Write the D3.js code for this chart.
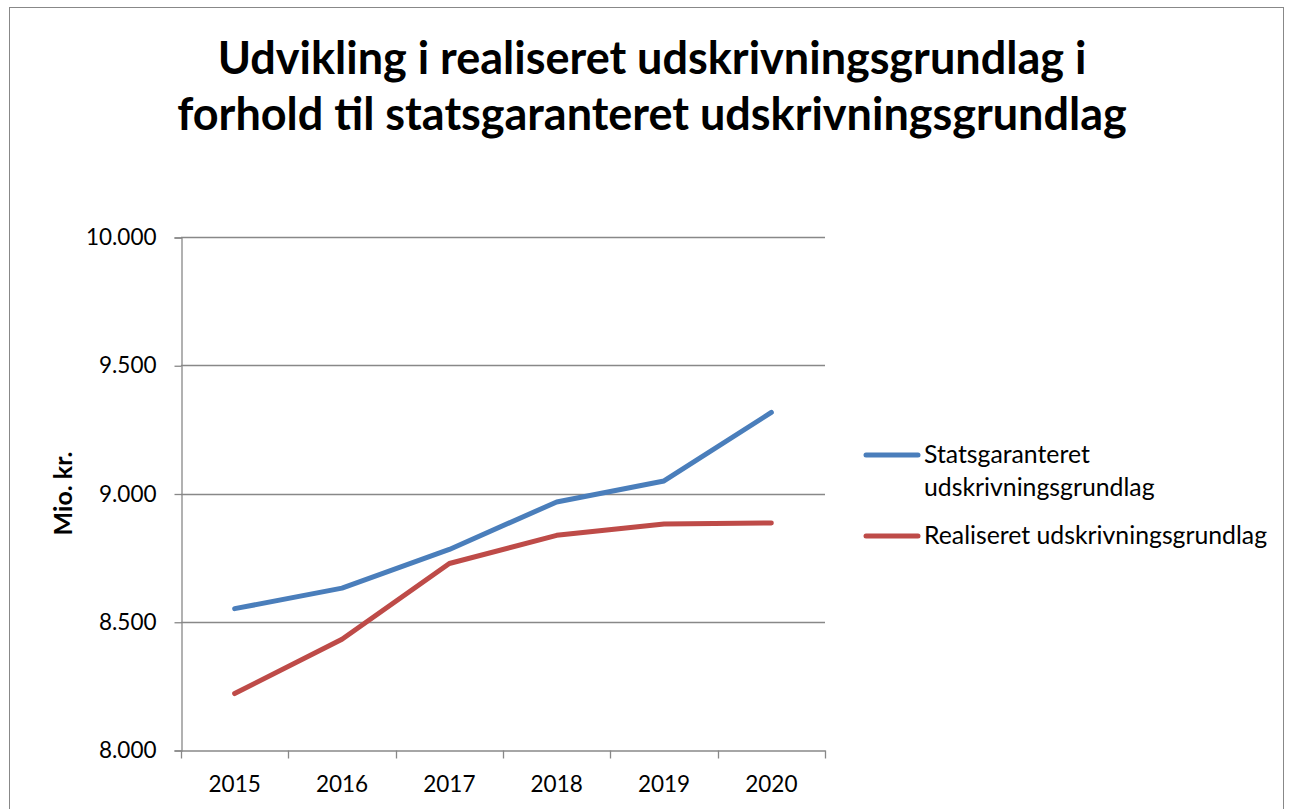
<!DOCTYPE html>
<html>
<head>
<meta charset="utf-8">
<script src="https://cdn.jsdelivr.net/npm/d3@7"></script>
<style>
  body { margin: 0; background: #fff; }
  svg text { font-family: Lato, "Open Sans", sans-serif; fill: #000; }
</style>
</head>
<body>
<svg id="chart" width="1293" height="809"></svg>
<script>
// chart data
var years = ["2015", "2016", "2017", "2018", "2019", "2020"];
var statsgaranteret = [8551, 8631, 8782, 8967, 9049, 9316];
var realiseret = [8220, 8432, 8727, 8837, 8881, 8885];
var yTicks = [8000, 8500, 9000, 9500, 10000];
var seriesNames = ["Statsgaranteret udskrivningsgrundlag", "Realiseret udskrivningsgrundlag"];
var legendLines = [["Statsgaranteret", "udskrivningsgrundlag"], ["Realiseret udskrivningsgrundlag"]];
var seriesColors = ["#4a7ebb", "#be4b48"];
var titleLines = ["Udvikling i realiseret udskrivningsgrundlag i", "forhold til statsgaranteret udskrivningsgrundlag"];

var svg = d3.select("#chart");

// outer chart border
svg.append("rect")
  .attr("x", 9.5).attr("y", 7.5)
  .attr("width", 1274).attr("height", 840)
  .attr("fill", "none").attr("stroke", "#888").attr("stroke-width", 1);

// title
svg.append("text")
  .attr("x", 652).attr("y", 74)
  .attr("text-anchor", "middle")
  .style("font-size", "45px").style("font-weight", "bold")
  .selectAll("tspan").data(titleLines).enter().append("tspan")
    .attr("x", 652)
    .attr("dy", function(d, i) { return i ? 56 : 0; })
    .text(function(d) { return d; });

var plotLeft = 181, plotRight = 825, plotTop = 237, plotBottom = 750;

var x = d3.scaleBand().domain(years).range([plotLeft, plotRight]);
var y = d3.scaleLinear().domain([8000, 10000]).range([plotBottom, plotTop]);

// gridlines
svg.append("g").selectAll("line").data(yTicks.slice(1)).enter().append("line")
  .attr("x1", plotLeft).attr("x2", plotRight)
  .attr("y1", function(d) { return Math.round(y(d)) + 0.5; })
  .attr("y2", function(d) { return Math.round(y(d)) + 0.5; })
  .attr("stroke", "#888").attr("stroke-width", 1.3);

// y axis
var yAxis = svg.append("g")
  .attr("transform", "translate(" + (plotLeft + 0.5) + ",0.5)")
  .call(d3.axisLeft(y).tickValues(yTicks).tickSize(7).tickPadding(18)
    .tickFormat(function(d) { return d3.format(",")(d).replace(/,/g, "."); }));
yAxis.select(".domain").attr("stroke", "#888").attr("stroke-width", 1.3);
yAxis.selectAll(".tick line").attr("stroke", "#888").attr("stroke-width", 1.3);
yAxis.selectAll(".tick text").style("font-size", "22.5px").attr("fill", "#000").attr("font-family", null);

// x axis
var xAxis = svg.append("g")
  .attr("transform", "translate(0," + (plotBottom + 0.5) + ")")
  .call(d3.axisBottom(x).tickSize(0).tickPadding(26));
xAxis.select(".domain").attr("stroke", "#888").attr("stroke-width", 1.3);
xAxis.selectAll(".tick text").style("font-size", "22.5px").attr("fill", "#000").attr("font-family", null);
// category boundary ticks
var edges = years.map(function(d) { return x(d); }).concat([plotRight]);
xAxis.append("g").selectAll("line").data(edges).enter().append("line")
  .attr("x1", function(d) { return Math.round(d) + 0.5; })
  .attr("x2", function(d) { return Math.round(d) + 0.5; })
  .attr("y1", 0).attr("y2", 8)
  .attr("stroke", "#888").attr("stroke-width", 1.3);

// y axis title
svg.append("text")
  .attr("transform", "translate(72," + y(9000) + ") rotate(-90)")
  .attr("text-anchor", "middle")
  .style("font-size", "25px").style("font-weight", "bold")
  .text("Mio. kr.");

// lines
var line = d3.line()
  .x(function(d, i) { return x(years[i]) + x.bandwidth() / 2; })
  .y(function(d) { return y(d); });

[statsgaranteret, realiseret].forEach(function(vals, i) {
  svg.append("path")
    .datum(vals)
    .attr("class", "series")
    .attr("data-name", seriesNames[i])
    .attr("d", line)
    .attr("fill", "none")
    .attr("stroke", seriesColors[i])
    .attr("stroke-width", 5)
    .attr("stroke-linecap", "round")
    .attr("stroke-linejoin", "round");
});

// legend
var legendY = [455, 536];
legendLines.forEach(function(lines, i) {
  svg.append("line")
    .attr("x1", 866).attr("x2", 918)
    .attr("y1", legendY[i]).attr("y2", legendY[i])
    .attr("stroke", seriesColors[i]).attr("stroke-width", 5)
    .attr("stroke-linecap", "round");
  svg.append("text")
    .attr("x", 924).attr("y", legendY[i] + 8)
    .style("font-size", "24.8px")
    .selectAll("tspan").data(lines).enter().append("tspan")
      .attr("x", 924)
      .attr("dy", function(t, j) { return j ? 33 : 0; })
      .text(function(t) { return t; });
});
</script>
</body>
</html>
